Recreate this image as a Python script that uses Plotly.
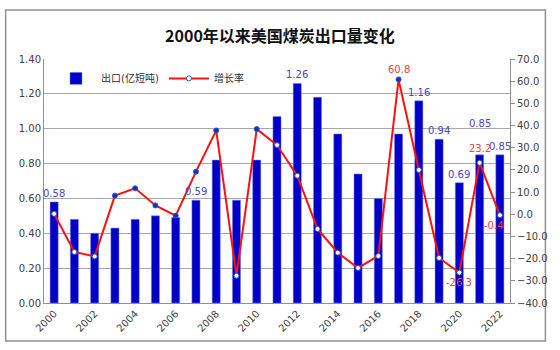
import plotly.graph_objects as go

years = list(range(2000, 2023))
exports = [0.58, 0.48, 0.40, 0.43, 0.48, 0.50, 0.49, 0.59, 0.82, 0.59, 0.82, 1.07,
           1.26, 1.18, 0.97, 0.74, 0.60, 0.97, 1.16, 0.94, 0.69, 0.85, 0.85]
growth = [0.2, -17.0, -19.0, 8.4, 11.7, 4.0, -0.6, 19.2, 37.8, -27.7, 38.4, 31.2,
          17.4, -6.6, -17.3, -24.2, -18.8, 60.8, 20.0, -19.7, -26.3, 23.2, -0.4]
marker_filled = [0, 0, 0, 1, 1, 1, 1, 1, 1, 0, 1, 0,
                 0, 0, 0, 0, 0, 1, 0, 0, 0, 0, 0]
left_ticks = [0.0, 0.2, 0.4, 0.6, 0.8, 1.0, 1.2, 1.4]
right_ticks = [-40, -30, -20, -10, 0, 10, 20, 30, 40, 50, 60, 70]
xtick_years = list(range(2000, 2023, 2))

bar_label_years = [2000, 2007, 2012, 2018, 2019, 2020, 2021, 2022]
bar_label_shift = {2021: 24}
growth_label_years = [2017, 2020, 2021, 2022]
growth_label_shift = {2017: (0, 10), 2020: (0, -10), 2021: (0, 14), 2022: (-6, -10)}

FONT = "DejaVu Sans, Noto Sans CJK SC"
BLUE = "#0000C8"
RED = "#FF1010"

fig = go.Figure()
fig.add_trace(go.Bar(
    x=years, y=exports, name="出口(亿短吨)",
    width=0.4,
    marker=dict(color=BLUE, line=dict(color="#8080E0", width=0.5)),
    yaxis="y",
))
fig.add_trace(go.Scatter(
    x=years, y=growth, name="增长率", mode="lines+markers",
    line=dict(color=RED, width=2),
    marker=dict(size=5, color=["#1030C0" if f else "white" for f in marker_filled],
                line=dict(color="#3050C0", width=1)),
    yaxis="y2",
))

annotations = []
for yr in bar_label_years:
    v = exports[years.index(yr)]
    annotations.append(dict(x=yr, y=v, xref="x", yref="y", text=f"{v:.2f}",
                            showarrow=False, yanchor="bottom",
                            yshift=bar_label_shift.get(yr, 1),
                            font=dict(family=FONT, size=10, color="#4646C8")))
for yr in growth_label_years:
    v = growth[years.index(yr)]
    dx, dy = growth_label_shift[yr]
    annotations.append(dict(x=yr, y=v, xref="x", yref="y2", text=f"{v:.1f}",
                            showarrow=False, xshift=dx, yshift=dy,
                            font=dict(family=FONT, size=10, color="#F04040")))

fig.update_layout(
    width=560, height=350,
    margin=dict(l=44, r=42, t=59, b=47),
    paper_bgcolor="white", plot_bgcolor="white",
    title=dict(text="<b>2000年以来美国煤炭出口量变化</b>", x=0.5, xanchor="center",
               y=0.897, yanchor="middle",
               font=dict(family="Noto Sans CJK SC", size=16, color="#111111")),
    font=dict(family=FONT, size=10, color="#404040"),
    showlegend=True,
    legend=dict(orientation="h", x=0.015, y=0.98, xanchor="left", yanchor="top",
                bgcolor="rgba(0,0,0,0)", font=dict(family=FONT, size=10, color="#303030"),
                itemwidth=40, traceorder="normal"),
    xaxis=dict(range=[1999.5, 2022.5], tickmode="array", tickvals=xtick_years,
               tickangle=-45, showgrid=False, showline=True, linecolor="#909090",
               zeroline=False, ticks="", tickfont=dict(size=10, color="#404040")),
    yaxis=dict(range=[0, 1.4], tickvals=left_ticks, tickformat=".2f",
               showgrid=True, gridcolor="#A8A8A8", gridwidth=1,
               showline=True, linecolor="#909090", zeroline=False, ticks="",
               tickfont=dict(size=10, color="#404040")),
    yaxis2=dict(range=[-40, 70], tickvals=right_ticks, tickformat=".1f",
                overlaying="y", side="right", showgrid=False,
                showline=True, linecolor="#909090", zeroline=False,
                ticks="outside", ticklen=4, tickcolor="#909090",
                tickfont=dict(size=10, color="#404040")),
    annotations=annotations,
    shapes=[dict(type="rect", xref="paper", yref="paper",
                 x0=(5 - 44) / 474, x1=(554 - 44) / 474,
                 y0=(303 - 341) / 244, y1=(303 - 10) / 244,
                 line=dict(color="#909090", width=1.5), fillcolor="rgba(0,0,0,0)",
                 layer="below")],
)

fig.write_html("out.html")
